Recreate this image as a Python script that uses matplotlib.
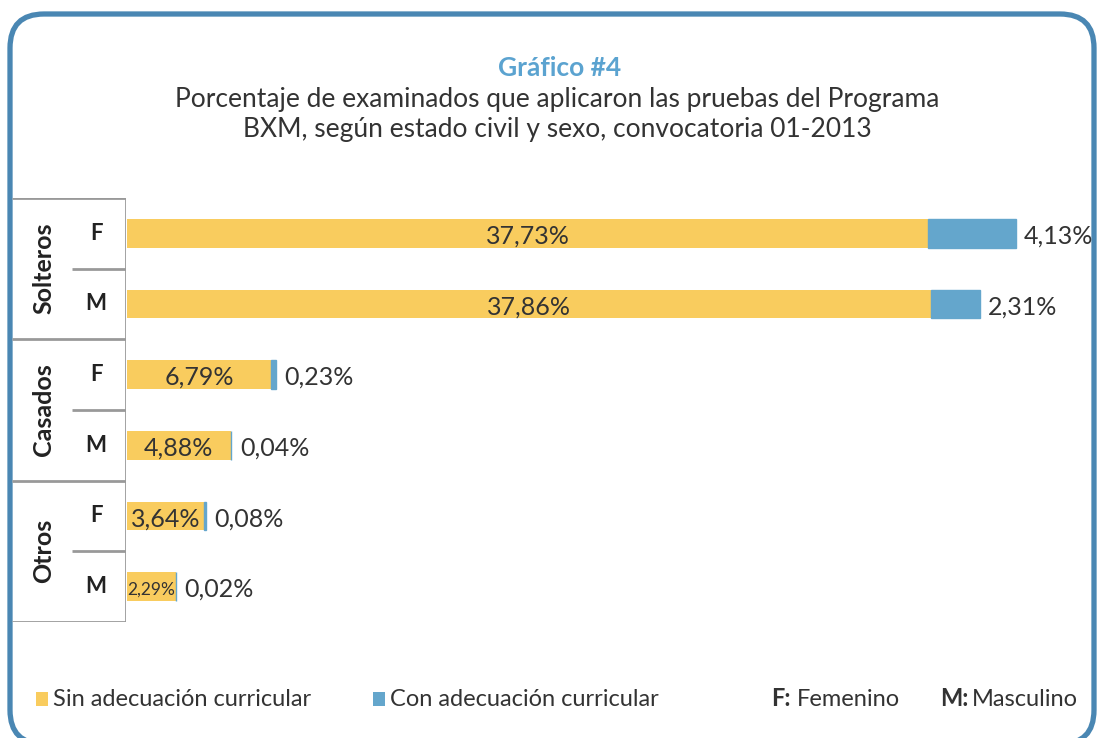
import numpy as np
import matplotlib.pyplot as plt
from matplotlib.patches import FancyBboxPatch, Rectangle

plt.rcParams['font.family'] = ['Lato', 'DejaVu Sans']

groups = ['Solteros', 'Casados', 'Otros']
sexes = ['F', 'M']
sin_adec = [37.73, 37.86, 6.79, 4.88, 3.64, 2.29]
con_adec = [4.13, 2.31, 0.23, 0.04, 0.08, 0.02]

yellow = '#F9CC5E'
blue = '#64A6CC'
frame_blue = '#4A87B3'
title_blue = '#5BA3D0'
grey = '#999999'
txt = '#333333'

W, H = 1098, 738
fig = plt.figure(figsize=(W / 100, H / 100), dpi=100)

# background layer in pixel units for frame, titles and legend
bg = fig.add_axes([0, 0, 1, 1])
bg.set_xlim(0, W)
bg.set_ylim(H, 0)
bg.axis('off')
frame = FancyBboxPatch((10, 14), 1084, 730, boxstyle='round,pad=0,rounding_size=34',
                       fc='white', ec=frame_blue, lw=3.8)
bg.add_patch(frame)

bg.text(560, 68, 'Gráfico #4', ha='center', va='center', color=title_blue,
        fontsize=19, fontweight='bold')
bg.text(557, 100, 'Porcentaje de examinados que aplicaron las pruebas del Programa',
        ha='center', va='center', color=txt, fontsize=19)
bg.text(557, 130, 'BXM, según estado civil y sexo, convocatoria 01-2013',
        ha='center', va='center', color=txt, fontsize=19)

# legend
bg.add_patch(Rectangle((36, 692), 12, 14, fc=yellow, ec='none'))
bg.text(53, 699, 'Sin adecuación curricular', va='center', color=txt, fontsize=17)
bg.add_patch(Rectangle((373, 692), 12, 14, fc=blue, ec='none'))
bg.text(390, 699, 'Con adecuación curricular', va='center', color=txt, fontsize=17)
bg.text(771, 699, 'F:', va='center', color=txt, fontsize=17, fontweight='bold')
bg.text(797, 699, 'Femenino', va='center', color=txt, fontsize=17)
bg.text(940, 699, 'M:', va='center', color=txt, fontsize=17, fontweight='bold')
bg.text(972, 699, 'Masculino', va='center', color=txt, fontsize=17)

n = len(sin_adec)
y = np.arange(n)

# row header table
top, bottom = 198, 622
tab = fig.add_axes([12 / W, 1 - bottom / H, 114 / W, (bottom - top) / H])
tab.set_xlim(0, 114)
tab.set_ylim(n - 0.5, -0.5)
tab.axis('off')
lk = dict(color=grey, lw=2, solid_capstyle='butt')
tab.plot([0, 114], [-0.5, -0.5], **lk)
tab.plot([114, 114], [-0.5, n - 0.5], **lk)
for g, name in enumerate(groups):
    y0 = g * len(sexes) - 0.5
    y1 = y0 + len(sexes)
    tab.plot([0, 114], [y1, y1], **lk)
    for s in range(1, len(sexes)):
        tab.plot([60, 114], [y0 + s, y0 + s], **lk)
    tab.text(32, (y0 + y1) / 2, name, rotation=90, ha='center', va='center',
             fontsize=18, fontweight='bold', color='#222222')
    for s, sx in enumerate(sexes):
        tab.text(84, y0 + s + 0.5, sx, ha='center', va='center',
                 fontsize=16, fontweight='bold', color='#222222')

# bars
ax = fig.add_axes([127 / W, 1 - bottom / H, (W - 127) / W, (bottom - top) / H])
ax.set_xlim(0, (W - 127) / 21.23)
ax.set_ylim(n - 0.5, -0.5)
ax.axis('off')
b1 = ax.barh(y, sin_adec, height=0.41, color=yellow)
# thin edge keeps the tiny slivers visible
b2 = ax.barh(y, con_adec, left=sin_adec, height=0.41, color=blue,
             edgecolor=blue, linewidth=1.0)

def fmt(v):
    return f'{v:.2f}%'.replace('.', ',')

for i in range(n):
    fs = 18 if sin_adec[i] > 3 else 12.5
    ax.text(sin_adec[i] / 2, y[i] + 0.04, fmt(sin_adec[i]), ha='center', va='center',
            fontsize=fs, color=txt)
    ax.text(sin_adec[i] + con_adec[i] + 0.4, y[i] + 0.04, fmt(con_adec[i]),
            ha='left', va='center', fontsize=18, color=txt)

fig.savefig('out.png', dpi=100, facecolor='white')
